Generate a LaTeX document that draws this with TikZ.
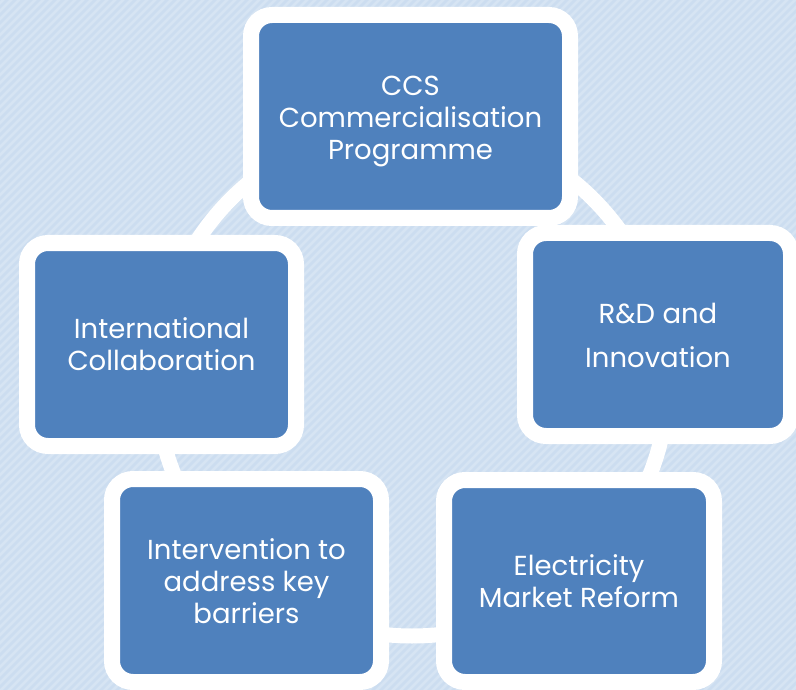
\documentclass[tikz,border=0pt]{standalone}
\usepackage{fontspec}
\setmainfont{Poppins}
\definecolor{bgblue}{HTML}{CCDDF0}
\definecolor{bgstripe}{HTML}{D6E4F3}
\definecolor{boxblue}{HTML}{4F81BD}
\begin{document}
\begin{tikzpicture}[x=1pt,y=-1pt,
  blk/.style={draw=white, fill=boxblue, line width=16pt, rounded corners=21pt,
    inner sep=0pt, outer sep=0pt},
  lbl/.style={text=white, align=center, font=\fontsize{27.5}{32}\selectfont, inner sep=0pt},
  ring/.style={draw=white, line width=15pt}]
\useasboundingbox (0,0) rectangle (796,690);
\fill[bgblue] (0,0) rectangle (796,690);
\begin{scope}
\clip (0,0) rectangle (796,690);
\foreach \k in {-700,-692,...,800} {
  \draw[bgstripe, line width=2.6pt] (\k,695) -- (\k+700,-5);
}
\end{scope}
\coordinate (c) at (412,380);
\draw[ring] (c) circle[radius=256];
% boxes: blue area + 16 (stroke centred on border)
\node[blk, minimum width=319pt, minimum height=203pt] (top) at (410.5,116.5) {};
\node[blk, minimum width=266pt, minimum height=203pt] (right) at (658,334.5) {};
\node[blk, minimum width=270pt, minimum height=202pt] (br) at (579,581) {};
\node[blk, minimum width=269pt, minimum height=203pt] (bl) at (246.5,580.5) {};
\node[blk, minimum width=269pt, minimum height=203pt] (left) at (161.5,344.5) {};
% labels
\node[lbl] (ttop) at ([yshift=-5pt]top.center) {CCS\\Commercialisation\\Programme};
\node[lbl] (tright) at ([yshift=-1pt]right.center) {R\&D and\\[12pt]Innovation};
\node[lbl] (tbr) at (br.center) {Electricity\\Market Reform};
\node[lbl] (tbl) at ([yshift=-1pt]bl.center) {Intervention to\\address key\\barriers};
\node[lbl] (tleft) at (left.center) {International\\Collaboration};
\end{tikzpicture}
\end{document}
